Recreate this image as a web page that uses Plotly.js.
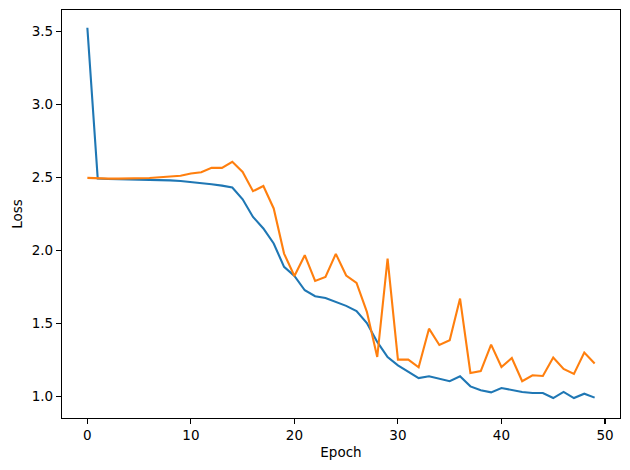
<!DOCTYPE html>
<html>
<head>
<meta charset="utf-8">
<script src="https://cdn.plot.ly/plotly-3.0.1.min.js"></script>
<style>html,body{margin:0;padding:0;background:#fff;}#chart{width:630px;height:470px;}</style>
</head>
<body>
<div id="chart"></div>
<script>
const epochs = Array.from({length: 50}, (_, i) => i);
const trainLoss = [3.523, 2.491, 2.488, 2.487, 2.486, 2.485, 2.483, 2.481, 2.478, 2.474,
  2.468, 2.460, 2.452, 2.442, 2.429, 2.349, 2.228, 2.149, 2.046, 1.886,
  1.824, 1.726, 1.685, 1.673, 1.646, 1.619, 1.584, 1.502, 1.372, 1.269,
  1.212, 1.171, 1.125, 1.137, 1.119, 1.103, 1.137, 1.068, 1.041, 1.027,
  1.057, 1.043, 1.030, 1.023, 1.023, 0.988, 1.030, 0.988, 1.018, 0.991];
const valLoss = [2.495, 2.490, 2.490, 2.490, 2.490, 2.492, 2.494, 2.500, 2.505, 2.510,
  2.525, 2.534, 2.564, 2.564, 2.605, 2.536, 2.404, 2.440, 2.286, 1.977,
  1.824, 1.966, 1.790, 1.817, 1.975, 1.827, 1.776, 1.578, 1.269, 1.943,
  1.251, 1.251, 1.199, 1.463, 1.351, 1.384, 1.669, 1.160, 1.173, 1.354,
  1.201, 1.262, 1.103, 1.144, 1.139, 1.265, 1.187, 1.153, 1.299, 1.224];
const xTicks = [0, 10, 20, 30, 40, 50];
const yTicks = [1.0, 1.5, 2.0, 2.5, 3.0, 3.5];

const font = {family: 'DejaVu Sans', size: 13.5, color: '#000'};
const traces = [
  {x: epochs, y: trainLoss, mode: 'lines', line: {color: '#1f77b4', width: 2.1}, name: 'train'},
  {x: epochs, y: valLoss, mode: 'lines', line: {color: '#ff7f0e', width: 2.1}, name: 'val'}
];
const axisCommon = {
  showgrid: false, zeroline: false, showline: true, mirror: true,
  linecolor: '#000', linewidth: 1.1, ticks: 'outside', ticklen: 5, tickwidth: 1.1,
  tickcolor: '#000', tickfont: font
};
const layout = {
  width: 630, height: 470,
  margin: {l: 62, r: 10, t: 10, b: 52},
  paper_bgcolor: '#fff', plot_bgcolor: '#fff',
  showlegend: false, font: font,
  xaxis: Object.assign({}, axisCommon, {
    range: [-2.45, 51.45], tickvals: xTicks, ticktext: xTicks.map(String),
    title: {text: 'Epoch', font: font, standoff: 5}
  }),
  yaxis: Object.assign({}, axisCommon, {
    range: [0.8515, 3.6445], tickvals: yTicks, ticktext: yTicks.map(v => v.toFixed(1)),
    title: {text: 'Loss', font: font, standoff: 6}
  })
};
Plotly.newPlot('chart', traces, layout, {displayModeBar: false, staticPlot: true});
</script>
</body>
</html>
